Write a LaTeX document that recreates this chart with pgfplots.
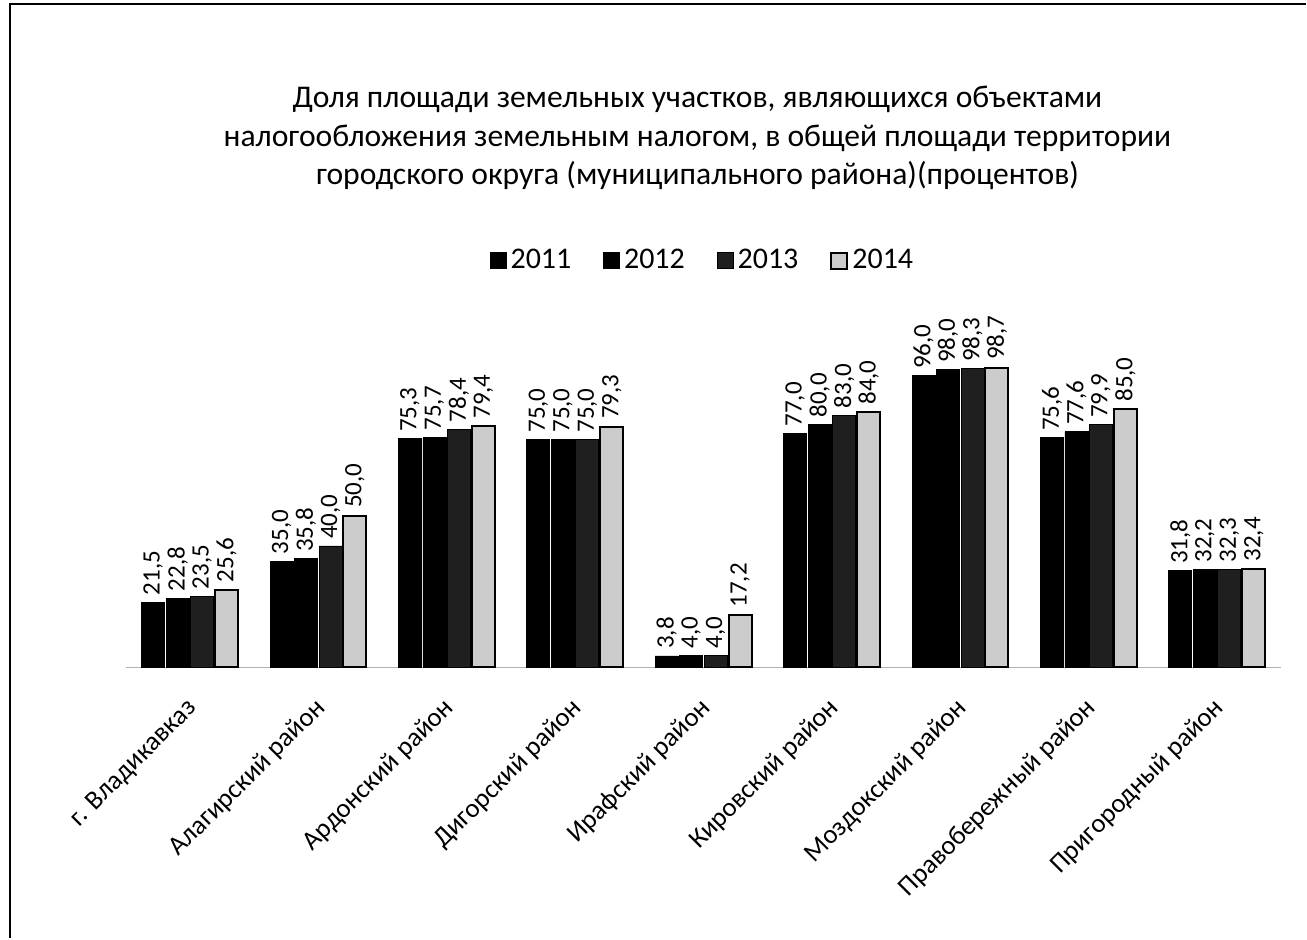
\documentclass[border=0pt]{standalone}
\usepackage{fontspec}
\setmainfont{Carlito}
\usepackage{pgfplots}
\pgfplotsset{compat=1.18}
\pgfplotstableread{
x y11 y12 y13 y14
0 21.5 22.8 23.5 25.6
1 35.0 35.8 40.0 50.0
2 75.3 75.7 78.4 79.4
3 75.0 75.0 75.0 79.3
4 3.8 4.0 4.0 17.2
5 77.0 80.0 83.0 84.0
6 96.0 98.0 98.3 98.7
7 75.6 77.6 79.9 85.0
8 31.8 32.2 32.3 32.4
}\datatable
\begin{document}
\begin{tikzpicture}[x=1pt,y=1pt]
\path (0,0) rectangle (653.5,469.5);
\draw[line width=1pt] (5,0) -- (5,467.5) -- (653.5,467.5);
\node[align=center, font=\fontsize{15.8}{19.3}\selectfont] at (349,400.5)
 {Доля площади земельных участков, являющихся объектами\\
  налогообложения земельным налогом, в общей площади территории\\
  городского округа (муниципального района)(процентов)};
\begin{axis}[
 at={(62.875pt,135.5pt)}, anchor=south west,
 scale only axis, width=578.25pt, height=152pt,
 xmin=-0.5, xmax=8.5, ymin=0, ymax=100,
 ybar=0.75pt, bar width=11.5pt,
 axis x line=bottom, axis y line=none,
 x axis line style={draw=gray!60, -},
 xtick={0,...,8}, major tick length=0pt,
 xticklabels={г. Владикавказ, Алагирский район, Ардонский район, Дигорский район, Ирафский район, Кировский район, Моздокский район, Правобережный район, Пригородный район},
 xticklabel style={font=\fontsize{13.4}{16}\selectfont, xshift=4pt, yshift=-16pt, rotate=45, anchor=east},
 nodes near coords,
 every node near coord/.append style={rotate=90, anchor=west, font=\fontsize{12.5}{14}\selectfont, black},
 /pgf/number format/fixed, /pgf/number format/fixed zerofill, /pgf/number format/precision=1, /pgf/number format/use comma, /pgf/number format/assume math mode=true,
 legend columns=4,
 legend style={draw=none, at={(0.5,1.339)}, anchor=center, font=\fontsize{15}{17}\selectfont, /tikz/every even column/.append style={column sep=14pt}},
 legend image code/.code={\draw[#1] (0pt,-4pt) rectangle (8pt,4pt);},
]
\addplot[fill=black, draw=black] table[x=x,y=y11]{\datatable};
\addplot[fill=black, draw=black] table[x=x,y=y12]{\datatable};
\addplot[fill=black!88, draw=black] table[x=x,y=y13]{\datatable};
\addplot[fill=gray!40, draw=black, line width=1pt] table[x=x,y=y14]{\datatable};
\legend{2011,2012,2013,2014}
\end{axis}
\end{tikzpicture}
\end{document}
